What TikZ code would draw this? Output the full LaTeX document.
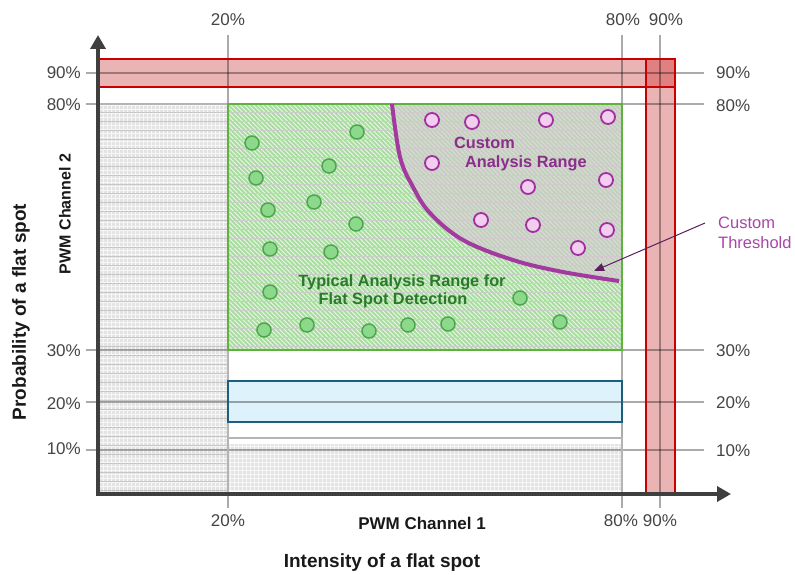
\documentclass[tikz,border=0pt]{standalone}
\usepackage{fontspec}
\setmainfont{Liberation Sans}
\usetikzlibrary{arrows.meta}
\definecolor{tickc}{HTML}{444444}
\definecolor{axisc}{HTML}{3F3F3F}
\definecolor{greybg}{HTML}{E3E3E3}
\definecolor{greyln}{HTML}{B4B4B4}
\definecolor{greenbg}{HTML}{EAF7E6}
\definecolor{greenst}{HTML}{A9DCA0}
\definecolor{greenln}{HTML}{5DB33C}
\definecolor{custfill}{HTML}{D6C8D2}
\definecolor{bluebg}{HTML}{DDF2FB}
\definecolor{blueln}{HTML}{1D5E7E}
\definecolor{redbg}{HTML}{EAB4B4}
\definecolor{redov}{HTML}{E08080}
\definecolor{redln}{HTML}{C80000}
\definecolor{gdotf}{HTML}{8CD98C}
\definecolor{gdotl}{HTML}{4CA64C}
\definecolor{pdotf}{HTML}{F2CDF0}
\definecolor{pdotl}{HTML}{A0309E}
\definecolor{curvec}{HTML}{A33AA0}
\definecolor{typc}{HTML}{2B7A2B}
\definecolor{custc}{HTML}{8B2D8B}
\definecolor{thrc}{HTML}{A845A8}
\definecolor{arrc}{HTML}{5B1F5B}
\tikzset{
  ticklab/.style={font=\fontsize{17}{20}\selectfont, text=tickc, inner sep=0pt},
  axlab/.style={font=\bfseries\fontsize{17}{20}\selectfont, text=black!90, inner sep=0pt},
  outlab/.style={font=\bfseries\fontsize{19}{22}\selectfont, text=black!90, inner sep=0pt},
  typlab/.style={font=\bfseries\fontsize{16.3}{19}\selectfont, text=typc, inner sep=0pt},
  custlab/.style={font=\bfseries\fontsize{16.3}{19}\selectfont, text=custc, inner sep=0pt, anchor=west},
  thrlab/.style={font=\fontsize{16.5}{19}\selectfont, text=thrc, inner sep=0pt, anchor=west},
  gdot/.style={circle, draw=gdotl, fill=gdotf, line width=1.5pt, minimum size=14pt, inner sep=0pt},
  pdot/.style={circle, draw=pdotl, fill=pdotf, line width=1.8pt, minimum size=14pt, inner sep=0pt},
  gridl/.style={draw=black, draw opacity=0.33, line width=1.2pt},
  axisl/.style={draw=axisc, line width=4.5pt, -{Triangle[length=14pt,width=15pt]}},
}
\begin{document}
\begin{tikzpicture}[x=1pt,y=-1pt]
\useasboundingbox (0,0) rectangle (795,575);

% grey left region
\begin{scope}
\clip (98,104) rectangle (228,494);
\fill[greybg] (98,104) rectangle (228,494);
\foreach \i in {99,103,...,228} \draw[white!70!greybg, line width=1pt] (\i,104) -- (\i,494);
\foreach \j in {106,110,...,494} \draw[white!70!greybg, line width=1pt] (98,\j) -- (228,\j);
\foreach \j in {112,121,...,494} \draw[gray!45, line width=0.6pt] (98,\j) -- (228,\j);
\end{scope}

% grey bottom box fill
\begin{scope}
\clip (229,444) rectangle (621,491);
\fill[greybg] (229,444) rectangle (621,491);
\foreach \i in {230,234,...,622} \draw[white!70!greybg, line width=1pt] (\i,444) -- (\i,491);
\foreach \j in {446,450,...,491} \draw[white!70!greybg, line width=1pt] (229,\j) -- (621,\j);
\end{scope}

% green region
\begin{scope}
\clip (228,104) rectangle (622,350);
\fill[greenbg] (228,104) rectangle (622,350);
\foreach \i in {-20,-15.5,...,625} \draw[greenst, line width=2pt] (\i,104) -- ++(246,246);
\foreach \j in {112,121,...,350} \draw[gray!40, line width=0.6pt] (228,\j) -- (622,\j);
\fill[custfill, fill opacity=0.6] plot[smooth, tension=0.6] coordinates {(392,104) (400,157) (413,187) (430,213) (463,240) (513,260) (563,272) (622,281)} -- (622,104) -- cycle;
\end{scope}

% blue box fill
\fill[bluebg] (228,381) rectangle (622,422);

% red bands fill
\fill[redbg] (98,59) rectangle (675,87);
\fill[redbg] (646,59) rectangle (675,494);
\fill[redov] (646,59) rectangle (675,87);

% gridlines
\draw[gridl] (228,35) -- (228,508);
\draw[gridl] (622,35) -- (622,508);
\draw[gridl] (660,35) -- (660,508);
\draw[gridl] (86,73) -- (704,73);
\draw[gridl] (86,104) -- (704,104);
\draw[gridl] (86,350) -- (704,350);
\draw[gridl] (86,402) -- (704,402);
\draw[gridl] (86,450) -- (704,450);

% outlines
\draw[greyln, line width=2pt] (98,104) -- (228,104) -- (228,494);
\draw[greyln, line width=2pt] (228,494) -- (228,438) -- (622,438) -- (622,494);
\draw[greenln, line width=2pt] (228,104) rectangle (622,350);
\draw[blueln, line width=2pt] (228,381) rectangle (622,422);
\draw[redln, line width=2pt] (98,59) rectangle (675,87);
\draw[redln, line width=2pt] (646,59) rectangle (675,494);

% green dots
\foreach \p [count=\k] in {(252,143),(357,132),(329,166),(256,178),(268,210),(314,202),(356,224),(270,249),(331,252),(270,292),(264,330),(307,325),(369,331),(408,325),(448,324),(520,298),(560,322)}
  \node[gdot] (g\k) at \p {};
% purple dots
\foreach \p [count=\k] in {(432,120),(472,122),(546,120),(608,117),(432,163),(606,180),(528,187),(481,220),(533,225),(607,230),(578,248)}
  \node[pdot] (p\k) at \p {};

% threshold curve
\draw[curvec, line width=4pt] plot[smooth, tension=0.6] coordinates {(392,104) (400,157) (413,187) (430,213) (463,240) (513,260) (563,272) (619,281)};
\coordinate (thr) at (594,271);

% axes
\coordinate (org) at (98,494);
\coordinate (ytip) at (98,35);
\coordinate (xtip) at (731,494);
\draw[axisl] (98,496.25) -- (ytip);
\draw[axisl] (95.75,494) -- (xtip);

% tick labels
\node[ticklab, anchor=east] (l90) at (81,73) {90\%};
\node[ticklab, anchor=east] (l80) at (81,105) {80\%};
\node[ticklab, anchor=east] (l30) at (81,351) {30\%};
\node[ticklab, anchor=east] (l20) at (81,404) {20\%};
\node[ticklab, anchor=east] (l10) at (81,449) {10\%};
\node[ticklab, anchor=west] (r90) at (716,73) {90\%};
\node[ticklab, anchor=west] (r80) at (716,106) {80\%};
\node[ticklab, anchor=west] (r30) at (716,351) {30\%};
\node[ticklab, anchor=west] (r20) at (716,403) {20\%};
\node[ticklab, anchor=west] (r10) at (716,451) {10\%};
\node[ticklab] (t20) at (228,20) {20\%};
\node[ticklab] (t80) at (623,20) {80\%};
\node[ticklab] (t90) at (666,20) {90\%};
\node[ticklab] (b20) at (228,521) {20\%};
\node[ticklab] (b80) at (621,521) {80\%};
\node[ticklab] (b90) at (660,521) {90\%};

% axis labels
\node[axlab] (xl1) at (422,523) {PWM Channel 1};
\node[outlab] (xl2) at (382,563) {Intensity of a flat spot};
\node[axlab, font=\bfseries\fontsize{16}{19}\selectfont, rotate=90] (yl1) at (65,214) {PWM Channel 2};
\node[outlab, rotate=90] (yl2) at (21,312) {Probability of a flat spot};

% region labels
\node[typlab] (ty1) at (402,282) {Typical Analysis Range for};
\node[typlab] (ty2) at (393,300) {Flat Spot Detection};
\node[custlab] (cu1) at (454,143) {Custom};
\node[custlab] (cu2) at (465,163) {Analysis Range};
\node[thrlab] (th1) at (718,223) {Custom};
\node[thrlab] (th2) at (718,243) {Threshold};

% threshold arrow
\draw[arrc, line width=1pt, -{Triangle[length=10pt,width=8pt]}] ([xshift=-13pt]th1.west) -- (thr);
\end{tikzpicture}
\end{document}
